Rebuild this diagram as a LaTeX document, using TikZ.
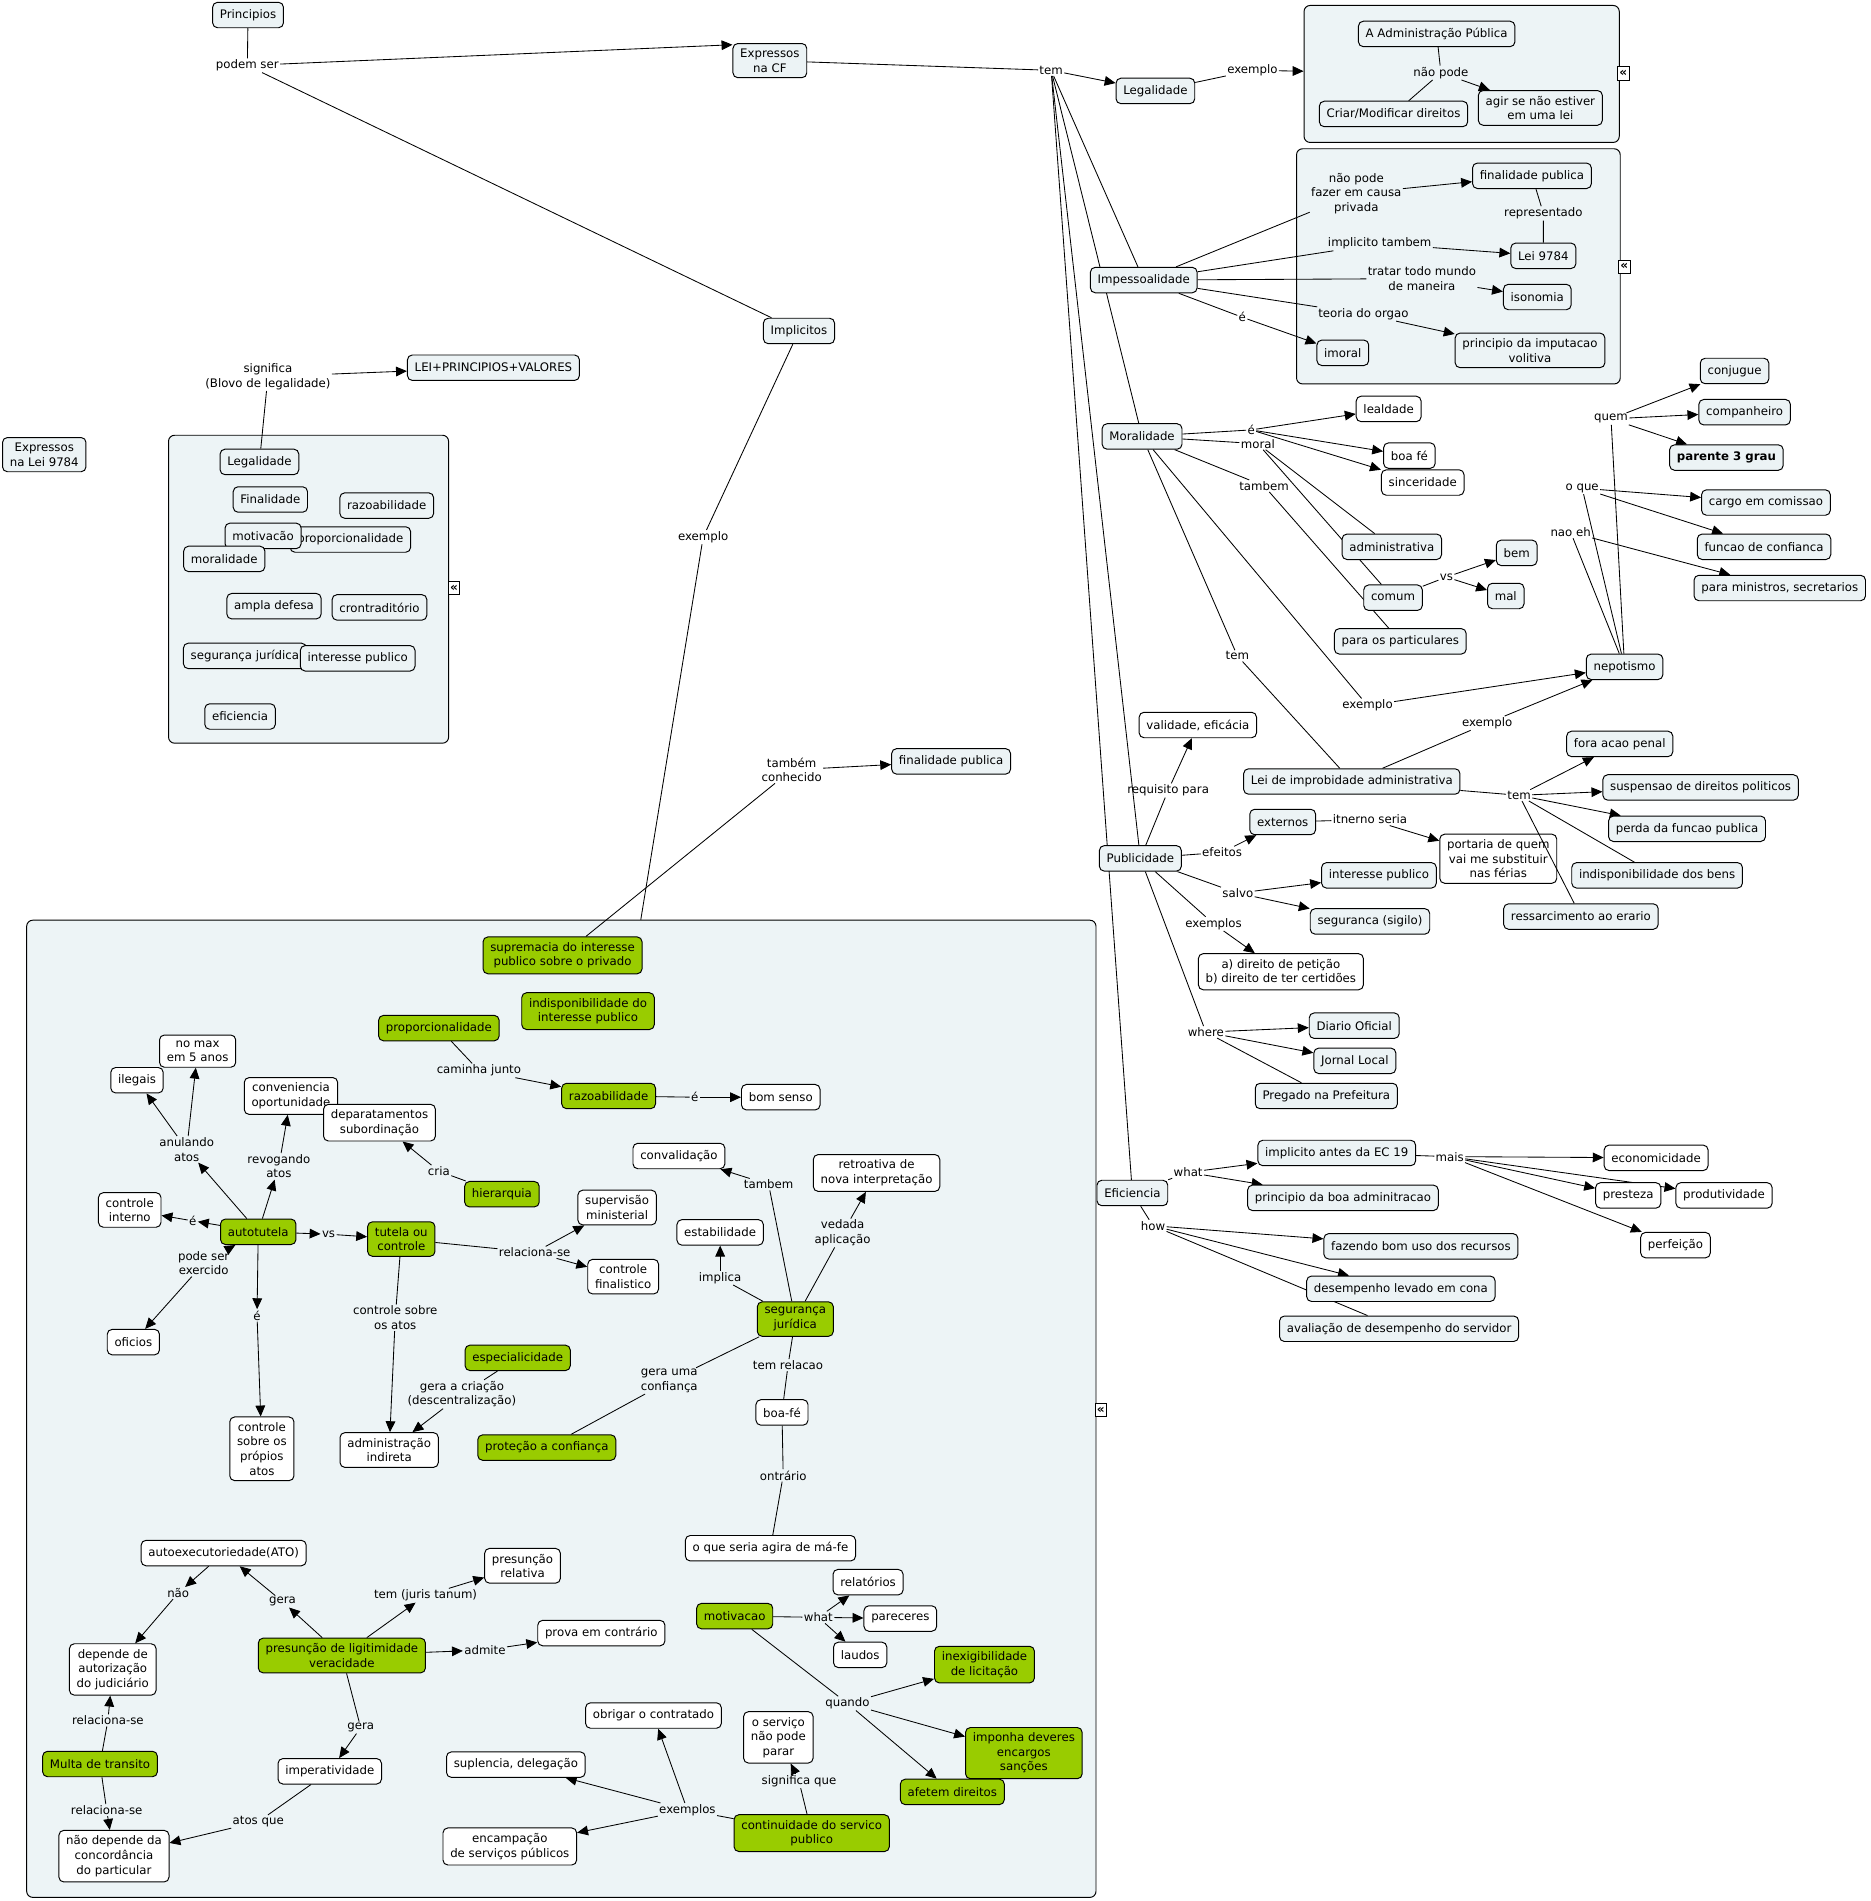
\documentclass[tikz,border=0pt]{standalone}
\usepackage{fontspec}
\setmainfont{DejaVu Sans}
\usetikzlibrary{arrows.meta}
\definecolor{cmblue}{RGB}{236,243,245}
\definecolor{cmpanel}{RGB}{237,244,246}
\definecolor{cmgreen}{RGB}{153,204,0}
\pgfdeclarelayer{panel}
\pgfdeclarelayer{links}
\pgfsetlayers{panel,links,main}
\tikzset{
  concept/.style={draw, line width=0.8pt, rounded corners=4pt, fill=cmblue, align=center, inner xsep=6pt, inner ysep=4.5pt, minimum height=21pt},
  plainc/.style={concept, fill=white},
  greenc/.style={concept, fill=cmgreen},
  phrase/.style={inner sep=1pt, align=center},
  panelbox/.style={draw, line width=0.8pt, rounded corners=5pt, fill=cmpanel},
  foldmark/.style={draw, line width=0.8pt, fill=white, inner sep=0pt, minimum width=9.5pt, minimum height=11pt, font=\fontsize{10}{10}\selectfont\bfseries},
  arr/.style={-{Triangle[length=9pt,width=8pt]}}
}
\begin{document}
\begin{tikzpicture}[x=1pt, y=-1pt, font=\fontsize{9.7}{12}\selectfont]
        \useasboundingbox (0,0) rectangle (1543,1568);
        \begin{pgfonlayer}{panel}
            \fill[white] (0,0) rectangle (1543,1568);
            \node[panelbox, minimum width=260pt, minimum height=113pt] (box1) at (1205.6,61) {};
            \node[panelbox, minimum width=267pt, minimum height=194pt] (box2) at (1202.9,219.7) {};
            \node[panelbox, minimum width=231pt, minimum height=254pt] (box3) at (254.5,486) {};
            \node[panelbox, minimum width=882pt, minimum height=806pt] (boxmain) at (463,1162) {};
        \end{pgfonlayer}

        % principios
        \node[concept] (princ) at (204.6,12.4) {Principios};
        \node[phrase] (podem) at (204,54) {podem ser};
        \node[concept] (excf) at (635,50) {Expressos\\na CF};
        \node[concept] (impl) at (659,273) {Implicitos};
        \node[phrase] (tem) at (867,58) {tem};
        \node[concept] (legal) at (953,75) {Legalidade};
        \node[phrase] (exlegal) at (1033,58) {exemplo};
        \node[concept] (admpub) at (1185,28) {A Administração Pública};
        \node[phrase] (naopode) at (1188.5,60) {não pode};
        \node[concept] (criar) at (1149.4,94) {Criar/Modificar direitos};
        \node[concept] (agir) at (1270.5,89) {agir se não estiver\\em uma lei};
        \node[foldmark] (fold1) at (1339,60.5) {«};

        \node[concept] (impess) at (943.4,231) {Impessoalidade};
        \node[phrase] (causa) at (1118.7,159.4) {não pode\\fazer em causa\\privada};
        \node[concept] (finpub) at (1263.6,145) {finalidade publica};
        \node[phrase] (repres) at (1273,176) {representado};
        \node[concept] (lei9784) at (1273,211) {Lei 9784};
        \node[phrase] (impltb) at (1138,201) {implicito tambem};
        \node[phrase] (tratar) at (1172.8,229.8) {tratar todo mundo\\de maneira};
        \node[concept] (isonomia) at (1268,245) {isonomia};
        \node[phrase] (teoria) at (1124.6,259) {teoria do orgao};
        \node[phrase] (eimoral) at (1024.7,261.7) {é};
        \node[concept] (imoral) at (1107.6,291) {imoral};
        \node[concept] (imputa) at (1262,289) {principio da imputacao\\volitiva};
        \node[foldmark] (fold2) at (1339.7,220) {«};

        \node[concept] (moral) at (942,360) {Moralidade};
        \node[phrase] (emoral) at (1032,354.6) {é};
        \node[phrase] (lmoral) at (1037.5,366) {moral};
        \node[plainc] (lealdade) at (1145.4,337.3) {lealdade};
        \node[plainc] (boafe) at (1162.5,375.8) {boa fé};
        \node[plainc] (sincer) at (1173.5,398) {sinceridade};
        \node[phrase] (tambem) at (1042.6,400.8) {tambem};
        \node[concept] (adminv) at (1148,451) {administrativa};
        \node[concept] (comum) at (1149,493) {comum};
        \node[phrase] (vsbem) at (1193,476) {vs};
        \node[concept] (bem) at (1251,456) {bem};
        \node[concept] (mal) at (1242,491.6) {mal};
        \node[concept] (partic) at (1155,529) {para os particulares};
        \node[phrase] (temlei) at (1020.6,541) {tem};
        \node[phrase] (exnep) at (1128,582) {exemplo};
        \node[concept] (nepot) at (1340,550) {nepotismo};
        \node[phrase] (quem) at (1328.8,345.5) {quem};
        \node[concept] (conj) at (1430.7,306) {conjugue};
        \node[concept] (compan) at (1439,340) {companheiro};
        \node[concept, font=\fontsize{9.7}{12}\selectfont\bfseries] (parente) at (1424,377.4) {parente 3 grau};
        \node[phrase] (oque) at (1305,402.7) {o que};
        \node[concept] (cargo) at (1456.6,414.5) {cargo em comissao};
        \node[phrase] (naoeh) at (1295.5,439) {nao eh};
        \node[concept] (funcao) at (1455,451) {funcao de confianca};
        \node[concept] (minist) at (1468,485) {para ministros, secretarios};

        \node[concept] (improb) at (1115,644.6) {Lei de improbidade administrativa};
        \node[phrase] (exlei) at (1226.7,596.5) {exemplo};
        \node[phrase] (temimp) at (1253,656) {tem};
        \node[concept] (foraac) at (1336,613.6) {fora acao penal};
        \node[concept] (susp) at (1402.7,649.5) {suspensao de direitos politicos};
        \node[concept] (perda) at (1391.5,683.6) {perda da funcao publica};
        \node[concept] (indisp) at (1366.8,722) {indisponibilidade dos bens};
        \node[concept] (ressarc) at (1304,756) {ressarcimento ao erario};

        \node[plainc] (valid) at (988,598) {validade, eficácia};
        \node[phrase] (requis) at (963.5,652) {requisito para};
        \node[concept] (public) at (940.6,708) {Publicidade};
        \node[phrase] (efeitos) at (1008,703) {efeitos};
        \node[concept] (extern) at (1058,678) {externos};
        \node[phrase] (itnerno) at (1130,676) {itnerno seria};
        \node[plainc] (portaria) at (1235.8,708.3) {portaria de quem\\vai me substituir\\nas férias};
        \node[phrase] (salvo) at (1021,736.7) {salvo};
        \node[concept] (intpub) at (1137.4,722) {interesse publico};
        \node[concept] (segsig) at (1130,760) {seguranca (sigilo)};
        \node[phrase] (exemplos) at (1001,762) {exemplos};
        \node[plainc] (direito) at (1056.5,801.5) {a) direito de petição\\b) direito de ter certidões};
        \node[phrase] (where) at (994.6,851.3) {where};
        \node[concept] (diario) at (1117,846) {Diario Oficial};
        \node[concept] (jornal) at (1117.5,875) {Jornal Local};
        \node[concept] (pregado) at (1094,904) {Pregado na Prefeitura};

        \node[concept] (efic) at (934,984) {Eficiencia};
        \node[phrase] (what) at (980,967) {what};
        \node[concept] (implec) at (1102.6,951) {implicito antes da EC 19};
        \node[concept] (boaadm) at (1107.7,988) {principio da boa adminitracao};
        \node[phrase] (mais) at (1195.8,954) {mais};
        \node[plainc] (econ) at (1366,955) {economicidade};
        \node[plainc] (prest) at (1343,986) {presteza};
        \node[plainc] (produt) at (1422,986) {produtividade};
        \node[plainc] (perfei) at (1382,1027) {perfeição};
        \node[phrase] (how) at (951,1011) {how};
        \node[concept] (fazendo) at (1172,1028) {fazendo bom uso dos recursos};
        \node[concept] (desemp) at (1155.5,1063) {desempenho levado em cona};
        \node[concept] (avalia) at (1154,1096) {avaliação de desempenho do servidor};

        % lado esquerdo
        \node[phrase] (signif) at (221,310.6) {significa\\(Blovo de legalidade)};
        \node[concept] (leiprinc) at (407,303.3) {LEI+PRINCIPIOS+VALORES};
        \node[concept] (exp9784) at (36.5,375) {Expressos\\na Lei 9784};
        \node[concept] (lgl) at (214,381) {Legalidade};
        \node[concept] (finl) at (223,412) {Finalidade};
        \node[concept] (razl) at (319,417) {razoabilidade};
        \node[concept] (propl) at (289,445) {proporcionalidade};
        \node[concept] (motl) at (217,442) {motivacão};
        \node[concept] (morl) at (185,461) {moralidade};
        \node[concept] (ampl) at (226,500) {ampla defesa};
        \node[concept] (contr) at (313,501) {crontraditório};
        \node[concept] (segl) at (202,541) {segurança jurídica};
        \node[concept] (intl) at (295,543) {interesse publico};
        \node[concept] (efil) at (198,591) {eficiencia};
        \node[foldmark] (fold3) at (374.5,485) {«};

        \node[phrase] (exsup) at (580,443) {exemplo};
        \node[phrase] (conhec) at (653,635) {também\\conhecido};
        \node[concept] (finpub2) at (784.5,628) {finalidade publica};

        % implicitos
        \node[greenc] (suprem) at (464,788) {supremacia do interesse\\publico sobre o privado};
        \node[greenc] (indispo) at (485,834) {indisponibilidade do\\interesse publico};
        \node[greenc] (propor) at (362,848) {proporcionalidade};
        \node[phrase] (caminha) at (395,883) {caminha junto};
        \node[greenc] (razoab) at (502,904) {razoabilidade};
        \node[phrase] (erazo) at (573,905) {é};
        \node[plainc] (bomsenso) at (644,905) {bom senso};
        \node[plainc] (nomax) at (163,867) {no max\\em 5 anos};
        \node[plainc] (ilegais) at (113,891) {ilegais};
        \node[plainc] (conven) at (240,904) {conveniencia\\oportunidade};
        \node[plainc] (depart) at (313,926) {deparatamentos\\subordinação};
        \node[phrase] (anulando) at (154,948) {anulando\\atos};
        \node[phrase] (revog) at (230,962) {revogando\\atos};
        \node[phrase] (cria) at (362,966) {cria};
        \node[greenc] (hierarq) at (414,985) {hierarquia};
        \node[plainc] (ctrlint) at (107,998) {controle\\interno};
        \node[phrase] (eint) at (159,1007) {é};
        \node[greenc] (autot) at (213,1016) {autotutela};
        \node[phrase] (vsaut) at (271,1018) {vs};
        \node[greenc] (tutela) at (331,1022) {tutela ou\\controle};
        \node[plainc] (superv) at (509,996) {supervisão\\ministerial};
        \node[phrase] (relac) at (441,1033) {relaciona-se};
        \node[plainc] (finalis) at (514,1053) {controle\\finalistico};
        \node[phrase] (podeser) at (168,1042) {pode ser\\exercido};
        \node[plainc] (oficios) at (110,1107) {oficios};
        \node[phrase] (eprop) at (212,1085) {é};
        \node[plainc] (ctrlprop) at (216,1195) {controle\\sobre os\\própios\\atos};
        \node[phrase] (ctrlatos) at (326,1087) {controle sobre\\os atos};
        \node[greenc] (especial) at (427,1120) {especialicidade};
        \node[phrase] (geracria) at (381,1150) {gera a criação\\(descentralização)};
        \node[plainc] (admind) at (321,1196) {administração\\indireta};
        \node[greenc] (protec) at (451,1194) {proteção a confiança};
        \node[plainc] (convalid) at (560,953.5) {convalidação};
        \node[plainc] (retro) at (723,967.5) {retroativa de\\nova interpretação};
        \node[phrase] (tambem2) at (634,977) {tambem};
        \node[plainc] (estab) at (594,1016.5) {estabilidade};
        \node[phrase] (vedada) at (695,1017) {vedada\\aplicação};
        \node[phrase] (implica) at (594,1054) {implica};
        \node[greenc] (segjur) at (656,1088) {segurança\\jurídica};
        \node[phrase] (temrel) at (650,1126) {tem relacao};
        \node[phrase] (gerauma) at (552,1139) {gera uma\\confiança};
        \node[plainc] (boafe2) at (645,1165) {boa-fé};
        \node[phrase] (ontrario) at (646,1217) {ontrário};
        \node[plainc] (mafe) at (635.5,1277) {o que seria agira de má-fe};
        \node[plainc] (autoexec) at (184.5,1281) {autoexecutoriedade(ATO)};
        \node[phrase] (nao) at (147,1314) {não};
        \node[phrase] (gera1) at (233,1321) {gera};
        \node[plainc] (presrel) at (431,1291.5) {presunção\\relativa};
        \node[phrase] (juris) at (351,1316) {tem (juris tanum)};
        \node[plainc] (depende) at (93,1377) {depende de\\autorização\\do judiciário};
        \node[greenc] (presun) at (282,1365.5) {presunção de ligitimidade\\veracidade};
        \node[phrase] (admite) at (400,1361) {admite};
        \node[plainc] (prova) at (496,1347) {prova em contrário};
        \node[phrase] (relac1) at (89,1419) {relaciona-se};
        \node[phrase] (gera2) at (297.5,1425) {gera};
        \node[greenc] (multa) at (82.5,1455) {Multa de transito};
        \node[plainc] (imperat) at (272,1461) {imperatividade};
        \node[phrase] (relac2) at (88,1493) {relaciona-se};
        \node[phrase] (atosque) at (213,1502.6) {atos que};
        \node[plainc] (naodep) at (94,1531) {não depende da\\concordância\\do particular};
        \node[plainc] (relat) at (716,1305) {relatórios};
        \node[greenc] (motiv) at (606,1333) {motivacao};
        \node[phrase] (whatm) at (675,1334) {what};
        \node[plainc] (parec) at (742.6,1335) {pareceres};
        \node[plainc] (laudos) at (709.5,1365) {laudos};
        \node[greenc] (inexig) at (812,1373) {inexigibilidade\\de licitação};
        \node[phrase] (quando) at (699,1405) {quando};
        \node[plainc] (obrigar) at (539,1415) {obrigar o contratado};
        \node[plainc] (servico) at (642,1433) {o serviço\\não pode\\parar};
        \node[greenc] (imponha) at (844.5,1446) {imponha deveres\\encargos\\sanções};
        \node[greenc] (afetem) at (785.5,1478) {afetem direitos};
        \node[plainc] (suplen) at (425.5,1455.5) {suplencia, delegação};
        \node[phrase] (signque) at (659,1469) {significa que};
        \node[phrase] (exemplos2) at (567,1493) {exemplos};
        \node[plainc] (encamp) at (420.5,1523) {encampação\\de serviços públicos};
        \node[greenc] (contin) at (669.5,1512) {continuidade do servico\\publico};
        \node[foldmark] (fold4) at (908,1163) {«};

        \begin{pgfonlayer}{links}
        \begin{scope}[line width=0.7pt]
            \draw (princ) -- (podem);
            \draw[arr] (podem) -- (excf.157);
            \draw (podem) -- (impl);
            \draw (excf) -- (tem);
            \draw[arr] (tem) -- (legal);
            \draw (tem) -- (impess);
            \draw (tem) -- (moral);
            \draw (tem) -- (public);
            \draw (tem) -- (efic);
            \draw (legal) -- (exlegal);
            \draw[arr] (exlegal) -- (box1);
            \draw (admpub) -- (naopode);
            \draw (criar) -- (naopode);
            \draw[arr] (naopode) -- (agir);

            \draw (impess) -- (causa);
            \draw[arr] (causa) -- (finpub);
            \draw (finpub) -- (repres) -- (lei9784);
            \draw (impess) -- (impltb);
            \draw[arr] (impltb) -- (lei9784);
            \draw (impess) -- (tratar);
            \draw[arr] (tratar) -- (isonomia);
            \draw (impess) -- (teoria);
            \draw[arr] (teoria) -- (imputa);
            \draw (impess) -- (eimoral);
            \draw[arr] (eimoral) -- (imoral);

            \draw (moral) -- (emoral);
            \draw[arr] (emoral) -- (lealdade);
            \draw[arr] (emoral) -- (boafe);
            \draw[arr] (emoral) -- (sincer);
            \draw (moral) -- (lmoral);
            \draw (lmoral) -- (adminv);
            \draw (lmoral) -- (comum);
            \draw (moral) -- (tambem);
            \draw (tambem) -- (partic);
            \draw (comum) -- (vsbem);
            \draw[arr] (vsbem) -- (bem);
            \draw[arr] (vsbem) -- (mal);
            \draw (moral) -- (temlei);
            \draw (temlei) -- (improb);
            \draw (moral) -- (exnep);
            \draw[arr] (exnep) -- (nepot);
            \draw (nepot) -- (quem);
            \draw (nepot) -- (oque);
            \draw (nepot) -- (naoeh);
            \draw[arr] (quem) -- (conj);
            \draw[arr] (quem) -- (compan);
            \draw[arr] (quem) -- (parente);
            \draw[arr] (oque) -- (cargo);
            \draw[arr] (oque) -- (funcao);
            \draw[arr] (naoeh) -- (minist);

            \draw (improb) -- (exlei);
            \draw[arr] (exlei) -- (nepot);
            \draw (improb) -- (temimp);
            \draw[arr] (temimp) -- (foraac);
            \draw[arr] (temimp) -- (susp);
            \draw[arr] (temimp) -- (perda);
            \draw (temimp) -- (indisp);

            \draw (public) -- (requis);
            \draw[arr] (requis) -- (valid);
            \draw (public) -- (efeitos);
            \draw[arr] (efeitos) -- (extern);
            \draw (extern) -- (itnerno);
            \draw[arr] (itnerno) -- (portaria);
            \draw (public) -- (salvo);
            \draw[arr] (salvo) -- (intpub);
            \draw[arr] (salvo) -- (segsig);
            \draw (public) -- (exemplos);
            \draw[arr] (exemplos) -- (direito);
            \draw (public) -- (where);
            \draw[arr] (where) -- (diario);
            \draw[arr] (where) -- (jornal);
            \draw (where) -- (pregado);

            \draw (efic) -- (what);
            \draw[arr] (what) -- (implec);
            \draw[arr] (what) -- (boaadm);
            \draw (implec) -- (mais);
            \draw[arr] (mais) -- (econ);
            \draw[arr] (mais) -- (prest);
            \draw[arr] (mais) -- (produt);
            \draw[arr] (mais) -- (perfei);
            \draw (efic) -- (how);
            \draw[arr] (how) -- (fazendo);
            \draw[arr] (how) -- (desemp);
            \draw (how) -- (avalia);

            \draw (signif) -- (lgl);
            \draw[arr] (signif) -- (leiprinc);
            \draw (impl) -- (exsup);
            \draw (exsup) -- (boxmain);
            \draw (suprem) -- (conhec);
            \draw[arr] (conhec) -- (finpub2);

            \draw (propor) -- (caminha);
            \draw[arr] (caminha) -- (razoab);
            \draw (razoab) -- (erazo);
            \draw[arr] (erazo) -- (bomsenso);
            \draw[arr] (autot) -- (anulando);
            \draw[arr] (anulando) -- (ilegais);
            \draw[arr] (anulando) -- (nomax);
            \draw[arr] (autot) -- (revog);
            \draw[arr] (revog) -- (conven);
            \draw[arr] (autot) -- (eint);
            \draw[arr] (eint) -- (ctrlint);
            \draw[arr] (autot) -- (vsaut);
            \draw[arr] (vsaut) -- (tutela);
            \draw[arr] (podeser) -- (autot);
            \draw[arr] (podeser) -- (oficios);
            \draw[arr] (autot) -- (eprop);
            \draw[arr] (eprop) -- (ctrlprop);
            \draw (hierarq) -- (cria);
            \draw[arr] (cria) -- (depart);
            \draw (tutela) -- (relac);
            \draw[arr] (relac) -- (superv);
            \draw[arr] (relac) -- (finalis);
            \draw (tutela) -- (ctrlatos);
            \draw[arr] (ctrlatos) -- (admind);
            \draw (especial) -- (geracria);
            \draw[arr] (geracria) -- (admind);
            \draw (segjur) -- (tambem2);
            \draw[arr] (tambem2) -- (convalid);
            \draw (segjur) -- (vedada);
            \draw[arr] (vedada) -- (retro);
            \draw (segjur) -- (implica);
            \draw[arr] (implica) -- (estab);
            \draw (segjur) -- (temrel) -- (boafe2);
            \draw (segjur) -- (gerauma) -- (protec);
            \draw (boafe2) -- (ontrario) -- (mafe);
            \draw[arr] (presun) -- (gera1);
            \draw[arr] (gera1) -- (autoexec);
            \draw[arr] (autoexec) -- (nao);
            \draw[arr] (nao) -- (depende);
            \draw[arr] (presun) -- (juris);
            \draw[arr] (juris) -- (presrel);
            \draw[arr] (presun) -- (admite);
            \draw[arr] (admite) -- (prova);
            \draw (presun) -- (gera2);
            \draw[arr] (gera2) -- (imperat);
            \draw (multa) -- (relac1);
            \draw[arr] (relac1) -- (depende);
            \draw (multa) -- (relac2);
            \draw[arr] (relac2) -- (naodep);
            \draw (imperat) -- (atosque);
            \draw[arr] (atosque) -- (naodep);
            \draw (motiv) -- (whatm);
            \draw[arr] (whatm) -- (relat);
            \draw[arr] (whatm) -- (parec);
            \draw[arr] (whatm) -- (laudos);
            \draw (motiv) -- (quando);
            \draw[arr] (quando) -- (inexig);
            \draw[arr] (quando) -- (imponha);
            \draw[arr] (quando) -- (afetem);
            \draw (contin) -- (signque);
            \draw[arr] (signque) -- (servico);
            \draw (contin) -- (exemplos2);
            \draw[arr] (exemplos2) -- (obrigar);
            \draw[arr] (exemplos2) -- (suplen);
            \draw[arr] (exemplos2) -- (encamp);
        \end{scope}
        \end{pgfonlayer}
        \draw[line width=0.7pt] (temimp) -- (ressarc);
\end{tikzpicture}
\end{document}
